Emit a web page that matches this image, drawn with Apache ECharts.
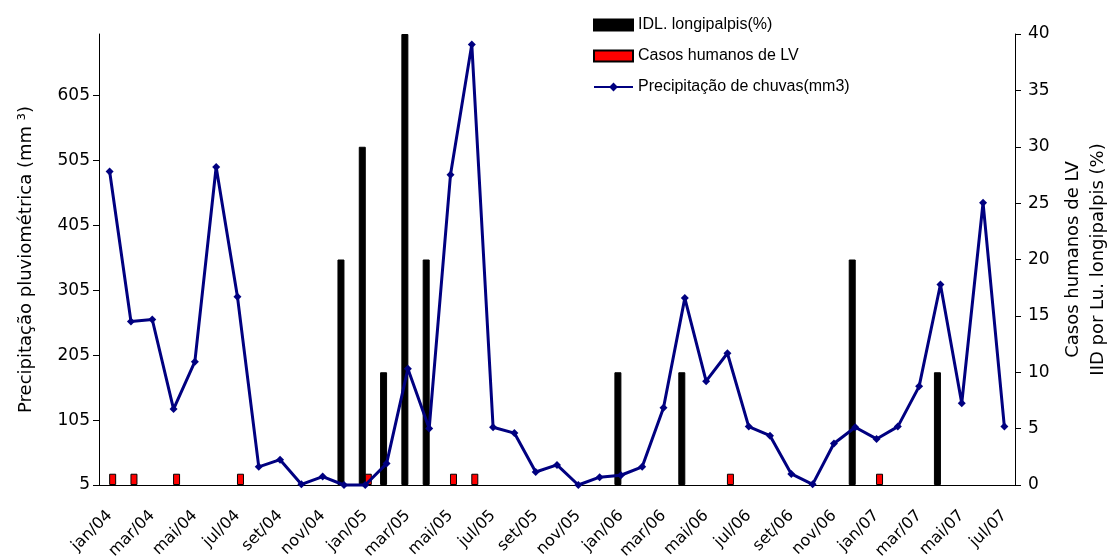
<!DOCTYPE html>
<html><head><meta charset="utf-8">
<script src="https://cdn.jsdelivr.net/npm/echarts@6/dist/echarts.min.js"></script>
<style>html,body{margin:0;padding:0;background:#fff}#c{width:1109px;height:558px}</style>
</head><body><div id="c"></div>
<script>
const categories = [
  'jan/04','fev/04','mar/04','abr/04','mai/04','jun/04','jul/04','ago/04','set/04','out/04','nov/04','dez/04',
  'jan/05','fev/05','mar/05','abr/05','mai/05','jun/05','jul/05','ago/05','set/05','out/05','nov/05','dez/05',
  'jan/06','fev/06','mar/06','abr/06','mai/06','jun/06','jul/06','ago/06','set/06','out/06','nov/06','dez/06',
  'jan/07','fev/07','mar/07','abr/07','mai/07','jun/07','jul/07'
];
const precipitacao = [488,257,260,122,195,495,295,33,44,6,18,5,5,38,184,92,483,684,94,85,25,36,5,17,20,33,124,293,165,208,95,81,22,6,69,94,76,95,157,314,131,440,95];
const idlLongipalpis = [null,null,null,null,null,null,null,null,null,null,null,20,30,10,40,20,null,null,null,null,null,null,null,null,10,null,null,10,null,null,null,null,null,null,null,20,null,null,null,10,null,null,null];
const casosHumanos = [1,1,null,1,null,null,1,null,null,null,null,null,1,null,null,null,1,1,null,null,null,null,null,null,null,null,null,null,null,1,null,null,null,null,null,null,1,null,null,null,null,null,null];
const leftTicks = [5,105,205,305,405,505,605];
const leftMin = 5, leftMax = 700;
const rightMin = 0, rightMax = 40, rightInterval = 5;

const FONT = 'DejaVu Sans';
const chart = echarts.init(document.getElementById('c'), null, {renderer: 'canvas'});
chart.setOption({
  animation: false,
  backgroundColor: '#fff',
  textStyle: {fontFamily: FONT, color: '#000'},
  grid: {left: 99, right: 94, top: 34, bottom: 73, containLabel: false, outerBoundsMode: 'none'},
  legend: {
    orient: 'vertical', left: 588, top: 12,
    itemWidth: 39, itemHeight: 11, itemGap: 15,
    textStyle: {fontFamily: 'Liberation Sans', fontSize: 16, color: '#000', lineHeight: 16},
    data: [
      {name: 'IDL. longipalpis(%)', icon: 'rect'},
      {name: 'Casos humanos de LV', icon: 'rect'},
      {name: 'Precipitação de chuvas(mm3)'}
    ]
  },
  xAxis: {
    type: 'category', data: categories, boundaryGap: true,
    axisLine: {lineStyle: {color: '#000', width: 1}},
    axisTick: {interval: 0, length: 5, lineStyle: {color: '#000'}},
    axisLabel: {interval: 1, rotate: 45, margin: 28, fontSize: 16, fontFamily: FONT, color: '#000'},
    splitLine: {show: false}
  },
  yAxis: [
    {
      type: 'value', min: leftMin, max: leftMax, position: 'left',
      name: 'Precipitação pluviométrica (mm ³)', nameLocation: 'middle', nameGap: 64,
      nameTextStyle: {fontFamily: FONT, fontSize: 18, color: '#000'},
      axisLine: {show: true, lineStyle: {color: '#000', width: 1}},
      axisTick: {show: true, length: 6, customValues: leftTicks, lineStyle: {color: '#000'}},
      axisLabel: {customValues: leftTicks, margin: 9, fontSize: 17, fontFamily: FONT, color: '#000'},
      splitLine: {show: false}
    },
    {
      type: 'value', min: rightMin, max: rightMax, interval: rightInterval, position: 'right',
      name: 'Casos humanos de LV\nIID por Lu. longipalpis (%)', nameLocation: 'middle', nameGap: 43,
      nameTextStyle: {fontFamily: FONT, fontSize: 18, color: '#000', lineHeight: 25},
      axisLine: {show: true, lineStyle: {color: '#000', width: 1}},
      axisTick: {show: true, length: 6, lineStyle: {color: '#000'}},
      axisLabel: {margin: 13, fontSize: 17, fontFamily: FONT, color: '#000'},
      splitLine: {show: false}
    }
  ],
  series: [
    {
      name: 'IDL. longipalpis(%)', type: 'bar', yAxisIndex: 1, data: idlLongipalpis,
      barWidth: 7, barGap: '-14%',
      itemStyle: {color: '#000', borderColor: '#000', borderWidth: 1}
    },
    {
      name: 'Casos humanos de LV', type: 'bar', yAxisIndex: 1, data: casosHumanos,
      barWidth: 7, barGap: '-14%',
      itemStyle: {color: '#ff0000', borderColor: '#000', borderWidth: 1}
    },
    {
      name: 'Precipitação de chuvas(mm3)', type: 'line', yAxisIndex: 0, data: precipitacao,
      symbol: 'diamond', symbolSize: 8, clip: false,
      lineStyle: {color: '#000080', width: 3},
      itemStyle: {color: '#000080'}
    }
  ]
});
</script>
</body></html>
